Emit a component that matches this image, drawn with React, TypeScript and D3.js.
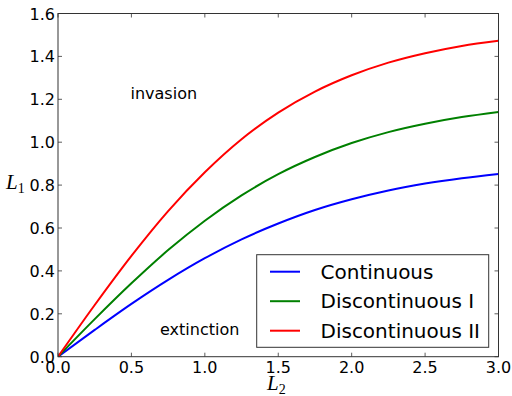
import React from "react";
import * as d3 from "d3";

const xValues = [0, 0.25, 0.5, 0.75, 1.0, 1.25, 1.5, 1.75, 2.0, 2.25, 2.5, 2.75, 3.0];
const continuous = [0, 0.125, 0.246, 0.358, 0.459, 0.547, 0.621, 0.684, 0.734, 0.775, 0.807, 0.832, 0.852];
const discontinuousI = [0, 0.175, 0.342, 0.497, 0.634, 0.752, 0.851, 0.931, 0.996, 1.047, 1.086, 1.117, 1.141];
const discontinuousII = [0, 0.241, 0.47, 0.679, 0.86, 1.014, 1.138, 1.236, 1.312, 1.371, 1.415, 1.449, 1.473];
const seriesNames = ["Continuous", "Discontinuous I", "Discontinuous II"];
const seriesColors = ["#0000ff", "#008000", "#ff0000"];
const xTicks = [0, 0.5, 1.0, 1.5, 2.0, 2.5, 3.0];
const yTicks = [0, 0.2, 0.4, 0.6, 0.8, 1.0, 1.2, 1.4, 1.6];

const W = 512, H = 396;
const left = 58, right = 498.5, top = 13.5, bottom = 356.7;

export default function App() {
  const x = d3.scaleLinear().domain([0, 3]).range([left, right]);
  const y = d3.scaleLinear().domain([0, 1.6]).range([bottom, top]);
  const all = [continuous, discontinuousI, discontinuousII];
  const line = d3
    .line<number>()
    .x((_, i) => x(xValues[i]))
    .y((d) => y(d))
    .curve(d3.curveMonotoneX);
  const font = "'DejaVu Sans', sans-serif";
  const mathFont = "'Liberation Serif', 'DejaVu Serif', serif";
  const tl = 4;
  return (
    <div style={{ position: "absolute", left: 0, top: 0 }}>
      <svg width={W} height={H} style={{ display: "block" }}>
        <rect x={0} y={0} width={W} height={H} fill="#fff" />
        <defs>
          <clipPath id="plot">
            <rect x={left} y={top} width={right - left} height={bottom - top} />
          </clipPath>
        </defs>
        <g clipPath="url(#plot)">
          {all.map((s, i) => (
            <path key={i} d={line(s) || ""} fill="none" stroke={seriesColors[i]} strokeWidth={2} />
          ))}
        </g>
        {xTicks.map((t) => (
          <g key={"x" + t}>
            <line x1={x(t)} x2={x(t)} y1={bottom} y2={bottom - tl} stroke="#333" strokeWidth={0.8} />
            <line x1={x(t)} x2={x(t)} y1={top} y2={top + tl} stroke="#333" strokeWidth={0.8} />
            <text x={x(t)} y={bottom + 16} textAnchor="middle" fontFamily={font} fontSize={16} fill="#000">
              {t.toFixed(1)}
            </text>
          </g>
        ))}
        {yTicks.map((t) => (
          <g key={"y" + t}>
            <line x1={left} x2={left + tl} y1={y(t)} y2={y(t)} stroke="#333" strokeWidth={0.8} />
            <line x1={right} x2={right - tl} y1={y(t)} y2={y(t)} stroke="#333" strokeWidth={0.8} />
            <text x={left - 3} y={y(t) + 6} textAnchor="end" fontFamily={font} fontSize={16} fill="#000">
              {t.toFixed(1)}
            </text>
          </g>
        ))}
        <rect x={left} y={top} width={right - left} height={bottom - top} fill="none" stroke="#333" strokeWidth={1} />
        <text x={130.5} y={99} fontFamily={font} fontSize={16} fill="#000">invasion</text>
        <text x={160} y={335} fontFamily={font} fontSize={16} fill="#000">extinction</text>
        <text x={6} y={189} fontFamily={mathFont} fontStyle="italic" fontSize={21} fill="#000">
          L<tspan fontStyle="normal" fontSize={14} dy={4}>1</tspan>
        </text>
        <text x={267} y={389.5} fontFamily={mathFont} fontStyle="italic" fontSize={21} fill="#000">
          L<tspan fontStyle="normal" fontSize={14} dy={4}>2</tspan>
        </text>
        <rect x={256.7} y={254.7} width={232} height={92.6} fill="#fff" stroke="#333" strokeWidth={1} />
        {seriesNames.map((n, i) => {
          const ly = 271.7 + i * 29.5;
          return (
            <g key={n}>
              <line x1={270} x2={300} y1={ly} y2={ly} stroke={seriesColors[i]} strokeWidth={2} />
              <text x={320.5} y={ly + 7} fontFamily={font} fontSize={20} fill="#000">{n}</text>
            </g>
          );
        })}
      </svg>
    </div>
  );
}
